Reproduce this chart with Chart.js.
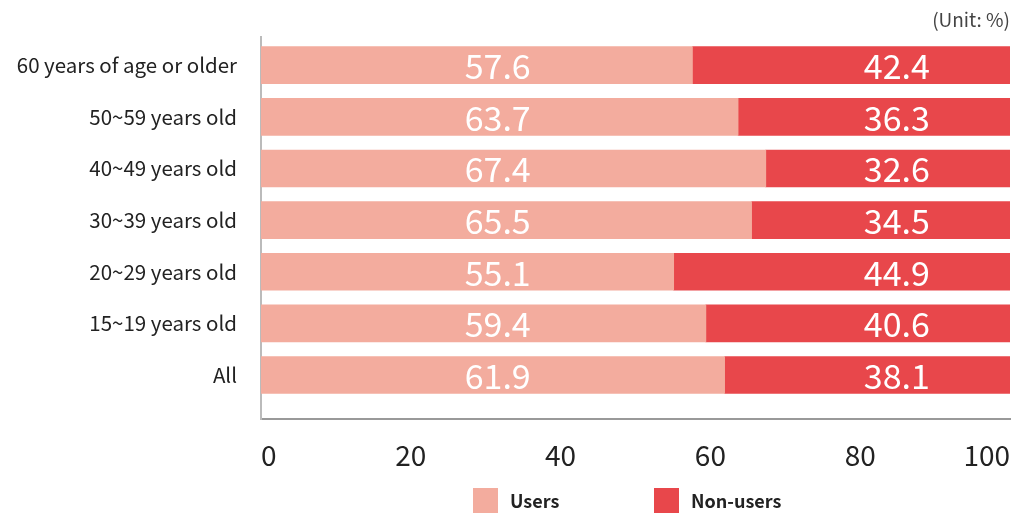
<!DOCTYPE html>
<html>
<head>
<meta charset="utf-8">
<script src="https://cdn.jsdelivr.net/npm/chart.js@4/dist/chart.umd.min.js"></script>
<style>
  body { margin: 0; background: #fff; }
  #wrap { position: relative; width: 1012px; height: 514px; }
  #legend { position: absolute; left: 473px; top: 488px; display: flex; font-family: 'Noto Sans CJK KR', sans-serif; }
  #legend .item { width: 181px; display: flex; align-items: center; }
  #legend .box { width: 25px; height: 25px; }
  #legend .text { margin-left: 12px; font-size: 18px; font-weight: bold; color: #222; line-height: 25px; }
</style>
</head>
<body>
<div id="wrap">
  <canvas id="chart"></canvas>
  <div id="legend"></div>
</div>
<script>
const categories = ['60 years of age or older', '50~59 years old', '40~49 years old', '30~39 years old', '20~29 years old', '15~19 years old', 'All'];
const users = [57.6, 63.7, 67.4, 65.5, 55.1, 59.4, 61.9];
const nonUsers = [42.4, 36.3, 32.6, 34.5, 44.9, 40.6, 38.1];
const xTicks = [0, 20, 40, 60, 80, 100];

const seriesNames = ['Users', 'Non-users'];
const seriesColors = ['#F3AC9E', '#E8474B'];
// where the value labels sit along the x scale (the reference puts them at fixed spots)
const labelAnchors = [31.6, 84.9];

Chart.defaults.font.family = "'Noto Sans CJK KR', 'Noto Sans', sans-serif";

// white value labels drawn on each bar
const valueLabels = {
  id: 'valueLabels',
  afterDatasetsDraw(chart) {
    const ctx = chart.ctx;
    const xScale = chart.scales.x;
    ctx.save();
    ctx.fillStyle = '#fff';
    ctx.font = "34px 'Noto Sans CJK KR', sans-serif";
    ctx.textAlign = 'center';
    ctx.textBaseline = 'middle';
    chart.data.datasets.forEach((ds, di) => {
      const meta = chart.getDatasetMeta(di);
      meta.data.forEach((bar, i) => {
        const x = xScale.getPixelForValue(labelAnchors[di]);
        ctx.fillText(ds.data[i].x.toFixed(1), x, bar.y + 1);
      });
    });
    ctx.restore();
  }
};

const toPoints = values => values.map((v, i) => ({ x: v, y: i }));

const chart = new Chart(document.getElementById('chart'), {
  type: 'bar',
  data: {
    datasets: [
      { label: seriesNames[0], data: toPoints(users), backgroundColor: seriesColors[0], barThickness: 37 },
      { label: seriesNames[1], data: toPoints(nonUsers), backgroundColor: seriesColors[1], barThickness: 37 }
    ]
  },
  options: {
    indexAxis: 'y',
    responsive: true,
    maintainAspectRatio: false,
    animation: false,
    layout: { padding: { left: 0, right: 2, top: 0, bottom: 23 } },
    plugins: {
      legend: { display: false },
      tooltip: { enabled: false },
      title: {
        display: true,
        text: '(Unit: %)',
        align: 'end',
        color: '#444',
        font: { size: 19, weight: 'normal' },
        padding: { top: 8, bottom: 6 }
      }
    },
    scales: {
      x: {
        type: 'linear',
        min: 0,
        max: 100,
        stacked: true,
        grid: { display: false, drawTicks: false },
        border: { display: true, color: '#999', width: 2 },
        afterBuildTicks: scale => { scale.ticks = xTicks.map(v => ({ value: v })); },
        afterFit: scale => { scale.paddingLeft = 0; scale.paddingRight = 0; },
        ticks: {
          align: 'inner',
          padding: 19,
          color: '#222',
          font: { size: 28 }
        }
      },
      y: {
        type: 'linear',
        offset: false,
        reverse: true,
        min: -0.55,
        max: 6.86,
        stacked: true,
        grid: { display: false, drawTicks: false },
        border: { display: true, color: '#bbb', width: 2 },
        afterBuildTicks: scale => { scale.ticks = categories.map((c, i) => ({ value: i })); },
        afterFit: scale => { scale.width = 261; },
        ticks: {
          callback: value => categories[value],
          padding: 24,
          color: '#222',
          font: { size: 20.5 }
        }
      }
    }
  },
  plugins: [valueLabels]
});

// legend below the chart, built from the datasets
const legendEl = document.getElementById('legend');
chart.data.datasets.forEach(ds => {
  const item = document.createElement('div');
  item.className = 'item';
  const box = document.createElement('span');
  box.className = 'box';
  box.style.background = ds.backgroundColor;
  const text = document.createElement('span');
  text.className = 'text';
  text.textContent = ds.label;
  item.appendChild(box);
  item.appendChild(text);
  legendEl.appendChild(item);
});
</script>
</body>
</html>
